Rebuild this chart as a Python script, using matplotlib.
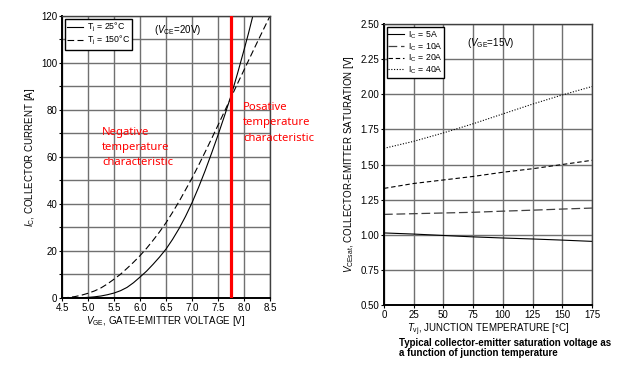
import matplotlib
matplotlib.use("Agg")
import matplotlib.pyplot as plt
import numpy as np

plt.rcParams["font.family"] = ["Liberation Sans", "DejaVu Sans"]
plt.rcParams["mathtext.fontset"] = "custom"
plt.rcParams["mathtext.rm"] = "Liberation Sans"
plt.rcParams["mathtext.it"] = "Liberation Sans:italic"
plt.rcParams["mathtext.bf"] = "Liberation Sans:bold"

# transfer characteristic (left)
vge_25 = [4.5, 4.625, 4.75, 4.875, 5.0, 5.125, 5.25, 5.375, 5.5, 5.625, 5.75, 5.875,
          6.0, 6.125, 6.25, 6.375, 6.5, 6.625, 6.75, 6.875, 7.0, 7.125, 7.25, 7.375,
          7.5, 7.625, 7.75, 7.875, 8.0, 8.085, 8.17]
ic_25 = [0, 0.02, 0.05, 0.12, 0.25, 0.5, 0.85, 1.4, 2.1, 3.1, 4.5, 6.5,
         8.9, 11.4, 14.3, 17.4, 20.8, 24.9, 29.5, 34.7, 40.5, 47.0, 54.0, 61.5,
         69.3, 77.5, 86.0, 95.5, 105.5, 112.5, 120]
vge_150 = [4.5, 4.625, 4.75, 4.875, 5.0, 5.125, 5.25, 5.375, 5.5, 5.625, 5.75, 5.875,
           6.0, 6.125, 6.25, 6.375, 6.5, 6.625, 6.75, 6.875, 7.0, 7.125, 7.25, 7.375,
           7.5, 7.625, 7.75, 7.875, 8.0, 8.125, 8.25, 8.375, 8.5]
ic_150 = [0, 0.25, 0.6, 1.2, 2.0, 3.0, 4.3, 6.0, 8.0, 10.1, 12.6, 15.2,
          18.0, 21.1, 24.5, 28.1, 32.0, 36.4, 41.0, 46.0, 51.0, 56.4, 62.0, 67.7,
          73.5, 79.4, 85.3, 91.2, 97.0, 102.8, 108.6, 114.3, 120]
v_boundary = 7.75

# saturation voltage vs temperature (right)
tvj = [0, 25, 50, 75, 100, 125, 150, 175]
vce_5a = [1.013, 1.005, 0.995, 0.985, 0.977, 0.970, 0.962, 0.953]
vce_10a = [1.145, 1.150, 1.155, 1.160, 1.168, 1.175, 1.183, 1.190]
vce_20a = [1.33, 1.365, 1.39, 1.415, 1.445, 1.47, 1.50, 1.53]
vce_40a = [1.615, 1.665, 1.725, 1.79, 1.86, 1.93, 1.995, 2.055]

fig = plt.figure(figsize=(6.27, 3.86), dpi=100)
ax1 = fig.add_axes([0.0989, 0.228, 0.3317, 0.7306])
ax2 = fig.add_axes([0.6124, 0.2098, 0.3317, 0.728])

grid_col = "#707070"
for ax in (ax1, ax2):
    ax.grid(True, color=grid_col, linewidth=1.0)
    ax.set_axisbelow(True)
    ax.tick_params(labelsize=7, length=2, width=0.8, pad=1.5)
    for s in ("left", "bottom"):
        ax.spines[s].set_color("black")
        ax.spines[s].set_linewidth(1.4)
    for s in ("top", "right"):
        ax.spines[s].set_color("#404040")
        ax.spines[s].set_linewidth(1.0)

# left chart
ax1.plot(vge_25, ic_25, color="black", lw=0.8, label=r"T$_\mathrm{j}$ = 25°C")
ax1.plot(vge_150, ic_150, color="black", lw=0.8, dashes=(6, 3), label=r"T$_\mathrm{j}$ = 150°C")
ax1.axvline(v_boundary, color="#ff0000", lw=2.3, zorder=5)
ax1.set_xlim(4.5, 8.5)
ax1.set_ylim(0, 120)
ax1.set_xticks(np.arange(4.5, 8.51, 0.5))
ax1.set_xticklabels([f"{v:.1f}" for v in np.arange(4.5, 8.51, 0.5)])
ax1.set_yticks(np.arange(0, 121, 10))
ax1.set_yticklabels(["0", "", "20", "", "40", "", "60", "", "80", "", "100", "", "120"])
ax1.set_xlabel(r"$V_\mathrm{GE}$, GATE-EMITTER VOLTAGE [V]", fontsize=7, labelpad=1)
ax1.set_ylabel(r"$I_\mathrm{C}$, COLLECTOR CURRENT [A]", fontsize=7, labelpad=3)
leg1 = ax1.legend(loc="upper left", fontsize=6.3, handlelength=1.8, handletextpad=0.4,
                  borderpad=0.25, labelspacing=0.0, fancybox=False, framealpha=1,
                  edgecolor="black", borderaxespad=0.35)
leg1.get_frame().set_linewidth(1.0)
ax1.text(6.27, 114, r"($V_\mathrm{CE}$=20V)", fontsize=7, va="center")
ax1.text(5.27, 64, "Negative\ntemperature\ncharacteristic", color="#ff0000",
         fontsize=8.1, family=["Noto Sans", "DejaVu Sans"], linespacing=1.55, va="center")
ax1.text(7.98, 74.5, "Posative\ntemperature\ncharacteristic", color="#ff0000",
         fontsize=8.1, family=["Noto Sans", "DejaVu Sans"], linespacing=1.55, va="center",
         clip_on=False)

# right chart
ax2.plot(tvj, vce_5a, color="black", lw=0.8, label=r"I$_\mathrm{C}$ = 5A")
ax2.plot(tvj, vce_10a, color="#404040", lw=0.9, dashes=(7, 3), label=r"I$_\mathrm{C}$ = 10A")
ax2.plot(tvj, vce_20a, color="black", lw=0.8, dashes=(4, 2.5), label=r"I$_\mathrm{C}$ = 20A")
ax2.plot(tvj, vce_40a, color="black", lw=0.8, dashes=(1, 1.5), label=r"I$_\mathrm{C}$ = 40A")
ax2.set_xlim(0, 175)
ax2.set_ylim(0.5, 2.5)
ax2.set_xticks(np.arange(0, 176, 25))
ax2.set_yticks(np.arange(0.5, 2.51, 0.25))
ax2.set_yticklabels([f"{v:.2f}" for v in np.arange(0.5, 2.51, 0.25)])
ax2.set_xlabel(r"$T_\mathrm{vj}$, JUNCTION TEMPERATURE [°C]", fontsize=7, labelpad=1)
ax2.set_ylabel(r"$V_\mathrm{CEsat}$, COLLECTOR-EMITTER SATURATION [V]", fontsize=7, labelpad=3)
leg2 = ax2.legend(loc="upper left", fontsize=6.3, handlelength=1.8, handletextpad=0.4,
                  borderpad=0.2, labelspacing=-0.1, fancybox=False, framealpha=1,
                  edgecolor="black", borderaxespad=0.3)
leg2.get_frame().set_linewidth(1.0)
ax2.text(70, 2.365, r"($V_\mathrm{GE}$=15V)", fontsize=7, va="center")

fig.text(0.636, 0.098, "Typical collector-emitter saturation voltage as\na function of junction temperature",
         fontsize=7, fontweight="bold", va="center", linespacing=1.0)

fig.savefig("out.png", dpi=100)
